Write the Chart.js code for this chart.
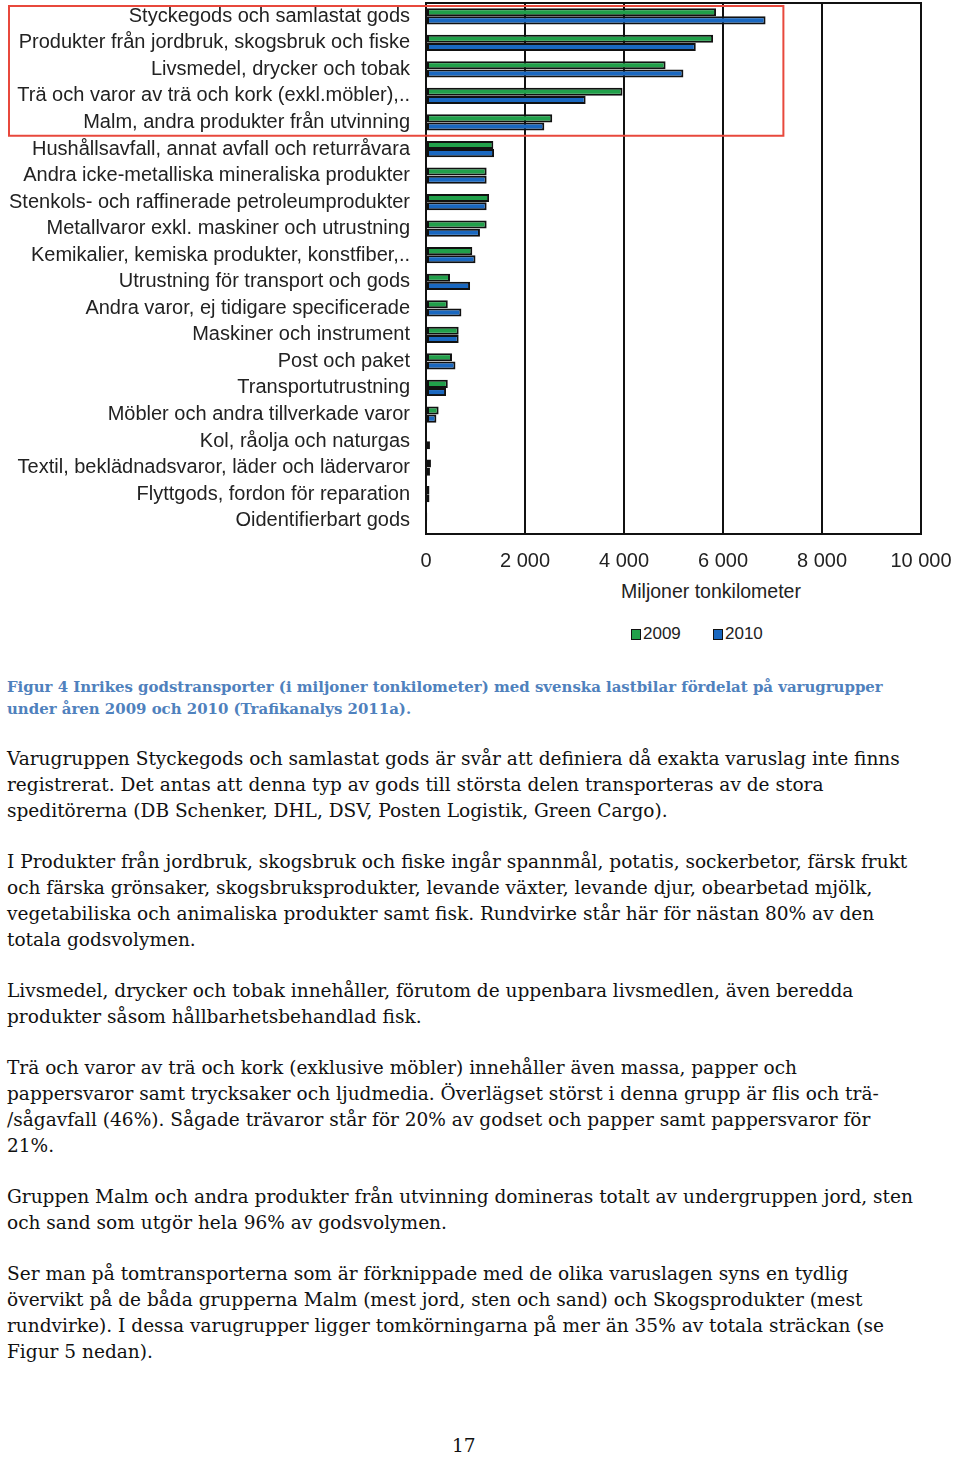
<!DOCTYPE html>
<html lang="sv">
<head>
<meta charset="utf-8">
<script src="https://cdn.jsdelivr.net/npm/chart.js@4/dist/chart.umd.min.js"></script>
<style>
  html, body { margin: 0; padding: 0; background: #fff; }
  body { width: 960px; height: 1458px; position: relative; overflow: hidden; }
  /* canvas sits 9px higher: the first y label's half-height is kept as top padding */
  #chart-box { position: absolute; left: 0; top: -9px; width: 960px; height: 589px; }
  .axis-title { position: absolute; left: 621px; top: 580px; font: 19.5px "Liberation Sans", Arial, sans-serif; color: #222; white-space: nowrap; }
  .legend { position: absolute; top: 624px; font: 17px "Liberation Sans", Arial, sans-serif; color: #222; }
  .legend span.sw { display: inline-block; width: 8px; height: 9px; border: 1.5px solid #111; vertical-align: -1px; margin-right: 2px; }
  .text { position: absolute; left: 7px; top: 676px; font-family: "DejaVu Serif", Cambria, serif; color: #111; white-space: nowrap; }
  .caption { font-weight: bold; font-size: 14.95px; line-height: 22px; color: #4f81bd; margin-bottom: 26px; }
  .text p { margin: 0 0 25px 0; font-size: 18.55px; line-height: 26px; }
  .page { position: absolute; top: 1435px; left: 452px; font: 18.55px "DejaVu Serif", serif; color: #111; }
</style>
</head>
<body>
<div id="chart-box"><canvas id="chart" width="960" height="589"></canvas></div>
<div class="axis-title">Miljoner tonkilometer</div>
<div class="legend" style="left:631px"><span class="sw" style="background:#21a04a"></span>2009</div>
<div class="legend" style="left:713px"><span class="sw" style="background:#1a68c0"></span>2010</div>

<div class="text">
  <div class="caption">Figur 4 Inrikes godstransporter (i miljoner tonkilometer) med svenska lastbilar fördelat på varugrupper<br>under åren 2009 och 2010 (Trafikanalys 2011a).</div>
  <p>Varugruppen Styckegods och samlastat gods är svår att definiera då exakta varuslag inte finns<br>registrerat. Det antas att denna typ av gods till största delen transporteras av de stora<br>speditörerna (DB Schenker, DHL, DSV, Posten Logistik, Green Cargo).</p>
  <p>I Produkter från jordbruk, skogsbruk och fiske ingår spannmål, potatis, sockerbetor, färsk frukt<br>och färska grönsaker, skogsbruksprodukter, levande växter, levande djur, obearbetad mjölk,<br>vegetabiliska och animaliska produkter samt fisk. Rundvirke står här för nästan 80% av den<br>totala godsvolymen.</p>
  <p>Livsmedel, drycker och tobak innehåller, förutom de uppenbara livsmedlen, även beredda<br>produkter såsom hållbarhetsbehandlad fisk.</p>
  <p>Trä och varor av trä och kork (exklusive möbler) innehåller även massa, papper och<br>pappersvaror samt trycksaker och ljudmedia. Överlägset störst i denna grupp är flis och trä-<br>/sågavfall (46%). Sågade trävaror står för 20% av godset och papper samt pappersvaror för<br>21%.</p>
  <p>Gruppen Malm och andra produkter från utvinning domineras totalt av undergruppen jord, sten<br>och sand som utgör hela 96% av godsvolymen.</p>
  <p>Ser man på tomtransporterna som är förknippade med de olika varuslagen syns en tydlig<br>övervikt på de båda grupperna Malm (mest jord, sten och sand) och Skogsprodukter (mest<br>rundvirke). I dessa varugrupper ligger tomkörningarna på mer än 35% av totala sträckan (se<br>Figur 5 nedan).</p>
</div>
<div class="page">17</div>

<script>
// Varugrupper, miljoner tonkilometer
const categories = [
    'Styckegods och samlastat gods',
    'Produkter från jordbruk, skogsbruk och fiske',
    'Livsmedel, drycker och tobak',
    'Trä och varor av trä och kork (exkl.möbler),..',
    'Malm, andra produkter från utvinning',
    'Hushållsavfall, annat avfall och returråvara',
    'Andra icke-metalliska mineraliska produkter',
    'Stenkols- och raffinerade petroleumprodukter',
    'Metallvaror exkl. maskiner och utrustning',
    'Kemikalier, kemiska produkter, konstfiber,..',
    'Utrustning för transport och gods',
    'Andra varor, ej tidigare specificerade',
    'Maskiner och instrument',
    'Post och paket',
    'Transportutrustning',
    'Möbler och andra tillverkade varor',
    'Kol, råolja och naturgas',
    'Textil, beklädnadsvaror, läder och lädervaror',
    'Flyttgods, fordon för reparation',
    'Oidentifierbart gods'
];
const values2009 = [5860, 5800, 4840, 3970, 2550, 1360, 1225, 1275, 1225, 935, 485, 440, 660, 525, 440, 255, 20, 100, 70, 25];
const values2010 = [6860, 5450, 5200, 3225, 2390, 1375, 1225, 1225, 1090, 1000, 890, 715, 660, 595, 405, 210, 80, 80, 70, 10];
const xTicks = [0, 2000, 4000, 6000, 8000, 10000];
const highlightCount = 5;     // first five groups are boxed in red
const highlightRightValue = 7220;

const fmt = v => String(v).replace(/\B(?=(\d{3})+(?!\d))/g, ' ');

// frame round the plot + red highlight box
const framePlugin = {
    id: 'frame',
    afterDatasetsDraw(chart) {
        const { ctx, chartArea: a } = chart;
        ctx.save();
        ctx.strokeStyle = '#111';
        ctx.lineWidth = 2;
        ctx.strokeRect(a.left, a.top, a.right - a.left, a.bottom - a.top);
        ctx.restore();
    },
    afterDraw(chart) {
        const { ctx } = chart;
        const y = chart.scales.y, x = chart.scales.x;
        const half = (y.getPixelForValue(1) - y.getPixelForValue(0)) / 2;
        const top = y.getPixelForValue(0) - half + 3;
        const bottom = y.getPixelForValue(highlightCount - 1) + half;
        const right = x.getPixelForValue(highlightRightValue);
        ctx.save();
        ctx.strokeStyle = '#e8483c';
        ctx.lineWidth = 2;
        ctx.strokeRect(9, top, right - 9, bottom - top);
        ctx.restore();
    }
};

new Chart(document.getElementById('chart').getContext('2d'), {
    type: 'bar',
    data: {
        labels: categories,
        datasets: [
            { label: '2009', data: values2009, backgroundColor: '#21a04a', borderColor: '#111', borderWidth: 2, borderSkipped: false },
            { label: '2010', data: values2010, backgroundColor: '#1a68c0', borderColor: '#111', borderWidth: 2, borderSkipped: false }
        ]
    },
    options: {
        indexAxis: 'y',
        responsive: false,
        animation: false,
        categoryPercentage: 0.62,
        barPercentage: 0.98,
        layout: { padding: { top: 0, right: 39, left: 0, bottom: 0 } },
        scales: {
            x: {
                min: 0, max: 10000,
                afterBuildTicks: s => { s.ticks = xTicks.map(v => ({ value: v })); },
                afterFit: s => { s.height = 46; },
                grid: { color: '#111', lineWidth: 2, drawTicks: true, tickLength: 10, tickColor: 'rgba(0,0,0,0)' },
                border: { color: '#111', width: 2 },
                ticks: {
                    padding: 5, color: '#222',
                    font: { family: '"Liberation Sans", Arial, sans-serif', size: 20 },
                    callback: v => fmt(v)
                }
            },
            y: {
                afterFit: s => { s.width = 426; },
                grid: { color: 'rgba(0,0,0,0)', drawTicks: true, tickLength: 16, tickColor: 'rgba(0,0,0,0)' },
                border: { color: '#111', width: 2 },
                ticks: {
                    autoSkip: false, padding: 0, color: '#222',
                    font: { family: '"Liberation Sans", Arial, sans-serif', size: 20 }
                }
            }
        },
        plugins: {
            legend: { display: false },
            tooltip: { enabled: false }
        }
    },
    plugins: [framePlugin]
});
</script>
</body>
</html>
